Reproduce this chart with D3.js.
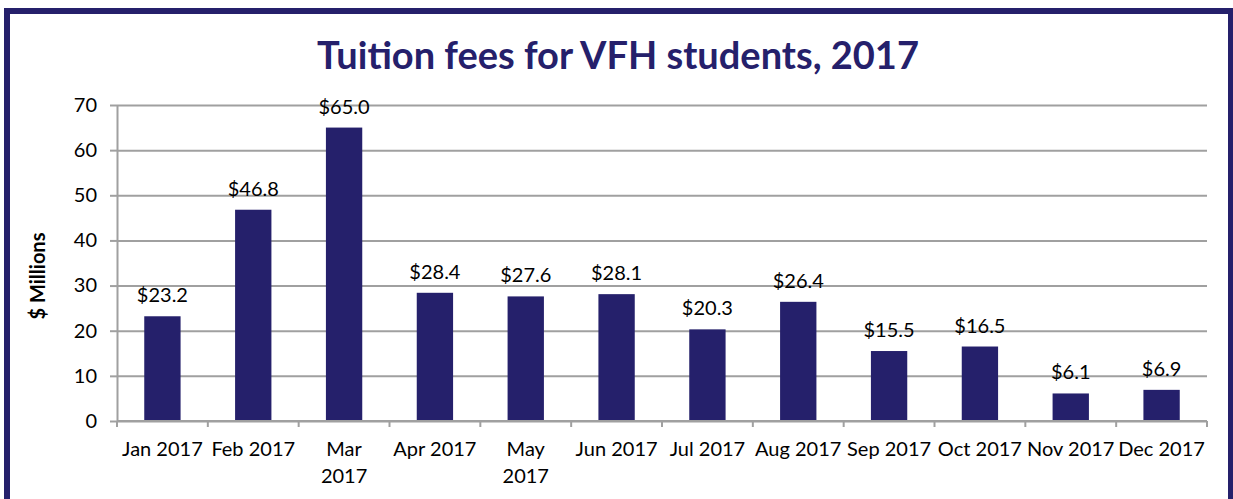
<!DOCTYPE html>
<html>
<head>
<meta charset="utf-8">
<script src="https://cdn.jsdelivr.net/npm/d3@7"></script>
<style>
  body { margin: 0; background: #fff; }
  svg { display: block; }
</style>
</head>
<body>
<div id="chart"></div>
<script>
// chart data
const months = ["Jan 2017", "Feb 2017", "Mar 2017", "Apr 2017", "May 2017", "Jun 2017",
                "Jul 2017", "Aug 2017", "Sep 2017", "Oct 2017", "Nov 2017", "Dec 2017"];
const tickLabels = ["Jan 2017", "Feb 2017", "Mar\n2017", "Apr 2017", "May\n2017", "Jun 2017",
                    "Jul 2017", "Aug 2017", "Sep 2017", "Oct 2017", "Nov 2017", "Dec 2017"];
const fees = [23.2, 46.8, 65.0, 28.4, 27.6, 28.1, 20.3, 26.4, 15.5, 16.5, 6.1, 6.9];
const yTicks = [0, 10, 20, 30, 40, 50, 60, 70];
const title = "Tuition fees for VFH students, 2017";
const yTitle = "$ Millions";

const width = 1233, height = 499;
const navy = "#25206b";
const grid = "#a0a0a0";
const font = "Lato, 'Open Sans', sans-serif";
const plot = {left: 117, right: 1207, top: 105, bottom: 421};

const svg = d3.select("#chart").append("svg")
    .attr("width", width)
    .attr("height", height);

// outer frame (bottom edge runs off the picture)
svg.append("rect")
    .attr("x", 7).attr("y", 11)
    .attr("width", 1224).attr("height", 520)
    .attr("fill", "#fff")
    .attr("stroke", navy)
    .attr("stroke-width", 6);

svg.append("text")
    .attr("x", 618).attr("y", 69)
    .attr("text-anchor", "middle")
    .attr("fill", navy)
    .style("font", `bold 38px ${font}`)
    .text(title);

const x = d3.scaleBand()
    .domain(months)
    .range([plot.left, plot.right])
    .paddingInner(0.6)
    .paddingOuter(0.3);

const y = d3.scaleLinear()
    .domain([0, 70])
    .range([plot.bottom, plot.top]);

// gridlines + y axis
const yAxis = svg.append("g")
    .attr("transform", `translate(${plot.left},0)`)
    .call(d3.axisLeft(y).tickValues(yTicks).tickSize(7).tickPadding(13)
      .tickSizeOuter(0));
yAxis.select(".domain").attr("stroke", grid).attr("stroke-width", 2);
yAxis.selectAll(".tick line").attr("stroke", grid).attr("stroke-width", 2);
yAxis.selectAll(".tick").append("line")
    .attr("x2", plot.right - plot.left)
    .attr("stroke", grid).attr("stroke-width", 2);
yAxis.selectAll(".tick text")
    .attr("fill", "#000")
    .style("font", `20px ${font}`);

// bars
svg.append("g").selectAll("rect")
  .data(fees)
  .join("rect")
    .attr("x", (d, i) => x(months[i]))
    .attr("y", d => y(d))
    .attr("width", x.bandwidth())
    .attr("height", d => y(0) - y(d))
    .attr("fill", navy);

// value labels
svg.append("g").selectAll("text")
  .data(fees)
  .join("text")
    .attr("x", (d, i) => x(months[i]) + x.bandwidth() / 2)
    .attr("y", d => y(d) - 14)
    .attr("text-anchor", "middle")
    .attr("fill", "#000")
    .style("font", `20px ${font}`)
    .text(d => "$" + d.toFixed(1));

// x axis: baseline with ticks at category boundaries
const step = x.step();
const xAxis = svg.append("g");
xAxis.append("line")
    .attr("x1", plot.left).attr("x2", plot.right)
    .attr("y1", plot.bottom).attr("y2", plot.bottom)
    .attr("stroke", grid).attr("stroke-width", 2);
xAxis.selectAll("line.tk")
  .data(d3.range(months.length + 1))
  .join("line")
    .attr("class", "tk")
    .attr("x1", i => plot.left + i * step).attr("x2", i => plot.left + i * step)
    .attr("y1", plot.bottom).attr("y2", plot.bottom + 6)
    .attr("stroke", grid).attr("stroke-width", 2);

const lbl = xAxis.selectAll("text")
  .data(tickLabels)
  .join("text")
    .attr("x", (d, i) => x(months[i]) + x.bandwidth() / 2)
    .attr("y", 456)
    .attr("text-anchor", "middle")
    .attr("fill", "#000")
    .style("font", `20px ${font}`);
lbl.each(function(d, i) {
  const t = d3.select(this);
  d.split("\n").forEach((line, j) => {
    t.append("tspan")
      .attr("x", x(months[i]) + x.bandwidth() / 2)
      .attr("dy", j === 0 ? 0 : 27)
      .text(line);
  });
});

// y axis title
svg.append("text")
    .attr("transform", "translate(45,276) rotate(-90)")
    .attr("text-anchor", "middle")
    .attr("fill", "#000")
    .style("font", `bold 20px ${font}`)
    .text(yTitle);
</script>
</body>
</html>
